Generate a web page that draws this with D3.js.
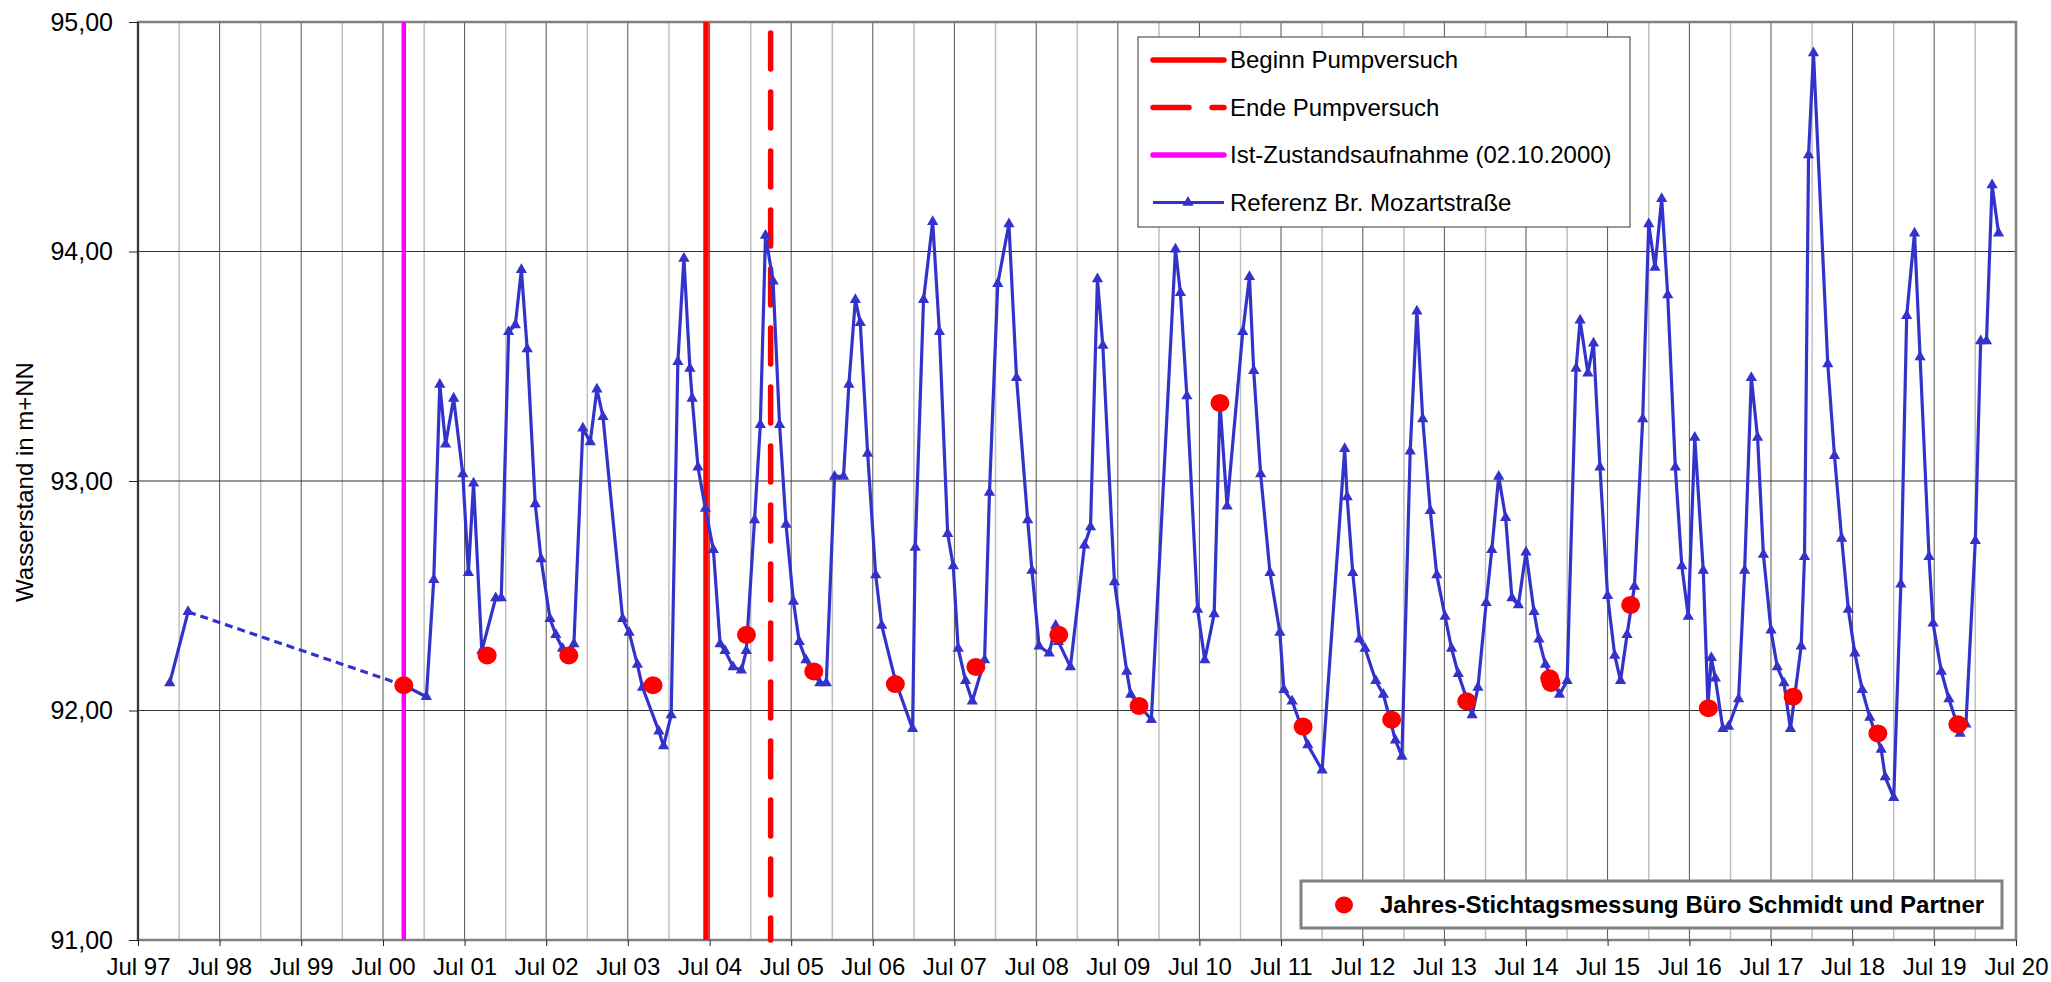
<!DOCTYPE html>
<html>
<head>
<meta charset="utf-8">
<script src="https://cdn.jsdelivr.net/npm/d3@7"></script>
<style>
  body { margin: 0; background: #fff; }
  svg { display: block; font-family: "Liberation Sans", Arial, sans-serif; }
</style>
</head>
<body>
<svg id="chart" width="2051" height="982"></svg>
<script>
// Referenz Br. Mozartstrasse
var refDates = ['1997-11-20', '1998-02-10', '2000-10-02', '2001-01-11', '2001-02-13', '2001-03-12', '2001-04-07', '2001-05-13', '2001-06-23', '2001-07-18',
    '2001-08-10', '2001-09-16', '2001-11-17', '2001-12-12', '2002-01-14', '2002-02-13', '2002-03-12', '2002-04-07', '2002-05-13', '2002-06-08',
    '2002-07-18', '2002-08-13', '2002-09-12', '2002-10-10', '2002-11-02', '2002-12-12', '2003-01-14', '2003-02-13', '2003-03-12', '2003-06-08',
    '2003-07-07', '2003-08-13', '2003-09-05', '2003-11-17', '2003-12-08', '2004-01-11', '2004-02-10', '2004-03-08', '2004-04-04', '2004-04-14',
    '2004-05-10', '2004-06-12', '2004-07-18', '2004-08-17', '2004-09-08', '2004-10-14', '2004-11-20', '2004-12-12', '2005-01-18', '2005-02-13',
    '2005-03-08', '2005-04-11', '2005-05-10', '2005-06-08', '2005-07-11', '2005-08-06', '2005-09-05', '2005-11-06', '2005-12-05', '2006-01-11',
    '2006-02-20', '2006-03-16', '2006-04-14', '2006-05-06', '2006-06-08', '2006-07-14', '2006-08-10', '2006-10-10', '2006-12-26', '2007-01-07',
    '2007-02-13', '2007-03-26', '2007-04-25', '2007-06-01', '2007-06-26', '2007-07-18', '2007-08-20', '2007-09-19', '2007-11-13', '2007-12-05',
    '2008-01-11', '2008-03-01', '2008-04-04', '2008-05-24', '2008-06-12', '2008-07-14', '2008-08-28', '2008-09-26', '2008-10-08', '2008-12-01',
    '2009-02-02', '2009-03-01', '2009-04-01', '2009-04-25', '2009-06-16', '2009-08-10', '2009-08-28', '2009-11-28', '2010-03-16', '2010-04-07',
    '2010-05-06', '2010-06-23', '2010-07-25', '2010-09-05', '2010-10-01', '2010-11-02', '2011-01-11', '2011-02-10', '2011-03-01', '2011-04-01',
    '2011-05-13', '2011-06-26', '2011-07-14', '2011-08-20', '2011-10-29', '2012-01-01', '2012-04-11', '2012-04-22', '2012-05-17', '2012-06-16',
    '2012-07-11', '2012-08-28', '2012-10-01', '2012-11-24', '2012-12-23', '2013-01-29', '2013-02-28', '2013-03-26', '2013-04-29', '2013-05-28',
    '2013-07-04', '2013-08-02', '2013-09-01', '2013-11-02', '2013-11-28', '2014-01-04', '2014-01-29', '2014-03-01', '2014-04-01', '2014-04-29',
    '2014-05-28', '2014-07-01', '2014-08-06', '2014-08-28', '2014-09-26', '2014-11-28', '2015-01-01', '2015-02-10', '2015-02-28', '2015-04-04',
    '2015-04-29', '2015-05-28', '2015-07-01', '2015-08-02', '2015-08-28', '2015-09-26', '2015-10-29', '2015-12-05', '2016-01-01', '2016-01-29',
    '2016-02-28', '2016-03-26', '2016-04-29', '2016-05-28', '2016-06-26', '2016-07-25', '2016-09-01', '2016-09-22', '2016-10-07', '2016-10-25',
    '2016-11-28', '2016-12-23', '2017-02-06', '2017-03-05', '2017-04-04', '2017-05-02', '2017-05-28', '2017-07-01', '2017-07-29', '2017-08-28',
    '2017-09-26', '2017-11-13', '2017-11-28', '2017-12-16', '2018-01-07', '2018-03-12', '2018-04-11', '2018-05-13', '2018-06-12', '2018-07-11',
    '2018-08-13', '2018-09-16', '2018-11-06', '2018-11-24', '2019-01-01', '2019-02-02', '2019-02-28', '2019-04-04', '2019-04-29', '2019-06-08',
    '2019-06-26', '2019-08-02', '2019-09-05', '2019-10-25', '2019-11-20', '2020-01-01', '2020-01-25', '2020-02-20', '2020-03-16', '2020-04-14'];
var refValues = [92.12, 92.43, 92.11, 92.06, 92.57, 93.42, 93.16, 93.36, 93.03, 92.60,
    92.99, 92.26, 92.49, 92.49, 93.65, 93.68, 93.92, 93.575, 92.90, 92.66,
    92.40, 92.33, 92.27, 92.23, 92.29, 93.23, 93.17, 93.40, 93.28, 92.40,
    92.34, 92.20, 92.10, 91.91, 91.845, 91.98, 93.52, 93.97, 93.49, 93.36,
    93.06, 92.88, 92.70, 92.29, 92.26, 92.19, 92.175, 92.26, 92.83, 93.245,
    94.07, 93.87, 93.245, 92.81, 92.475, 92.30, 92.22, 92.12, 92.12, 93.02,
    93.02, 93.42, 93.79, 93.69, 93.12, 92.59, 92.37, 92.13, 91.92, 92.71,
    93.79, 94.13, 93.65, 92.77, 92.63, 92.27, 92.13, 92.04, 92.22, 92.95,
    93.86, 94.12, 93.45, 92.83, 92.61, 92.28, 92.25, 92.37, 92.30, 92.19,
    92.72, 92.80, 93.88, 93.59, 92.56, 92.17, 92.07, 91.96, 94.01, 93.82,
    93.37, 92.44, 92.22, 92.42, 93.34, 92.89, 93.65, 93.89, 93.48, 93.03,
    92.60, 92.34, 92.09, 92.04, 91.85, 91.74, 93.14, 92.93, 92.60, 92.31,
    92.27, 92.13, 92.07, 91.87, 91.80, 93.13, 93.74, 93.27, 92.87, 92.59,
    92.41, 92.27, 92.16, 91.98, 92.10, 92.47, 92.70, 93.02, 92.84, 92.49,
    92.46, 92.69, 92.43, 92.31, 92.20, 92.07, 92.13, 93.49, 93.70, 93.47,
    93.60, 93.06, 92.50, 92.24, 92.13, 92.33, 92.54, 93.27, 94.12, 93.93,
    94.23, 93.81, 93.06, 92.63, 92.41, 93.19, 92.61, 92.02, 92.23, 92.14,
    91.92, 91.93, 92.05, 92.61, 93.45, 93.19, 92.68, 92.35, 92.19, 92.12,
    91.92, 92.28, 92.67, 94.42, 94.865, 93.51, 93.11, 92.75, 92.44, 92.25,
    92.09, 91.97, 91.83, 91.71, 91.62, 92.55, 93.72, 94.08, 93.54, 92.67,
    92.38, 92.17, 92.05, 91.90, 91.94, 92.74, 93.61, 93.61, 94.29, 94.08];
// index of the point where the dashed (gap) segment ends
var gapEnd = 2;

// Jahres-Stichtagsmessung
var messDates = ['2000-10-02', '2001-10-10', '2002-10-10', '2003-10-22', '2004-12-13', '2005-10-10', '2006-10-10',
    '2007-10-05', '2008-10-10', '2009-10-04', '2010-10-01', '2011-10-08', '2012-11-07', '2013-10-09',
    '2014-10-15', '2014-10-21', '2015-10-12', '2016-09-24', '2017-10-08', '2018-10-22', '2019-10-15'];
var messValues = [92.11, 92.24, 92.24, 92.11, 92.33, 92.17, 92.115,
    92.19, 92.33, 92.02, 93.34, 91.93, 91.96, 92.04,
    92.14, 92.12, 92.46, 92.01, 92.06, 91.90, 91.94];

var eventNames = ['Beginn Pumpversuch', 'Ende Pumpversuch', 'Ist-Zustandsaufnahme (02.10.2000)'];
var eventDates = ['2004-06-15', '2005-03-31', '2000-10-02'];

var yTicks = [91, 92, 93, 94, 95];

var parse = d3.timeParse('%Y-%m-%d');
var fmtNum = function(v) { return d3.format('.2f')(v).replace('.', ','); };

var svg = d3.select('#chart');
var plotLeft = 138, plotRight = 2016, plotTop = 22, plotBottom = 940;

var x = d3.scaleTime()
    .domain([new Date(1997, 6, 1), new Date(2020, 6, 1)])
    .range([plotLeft, plotRight]);
var y = d3.scaleLinear()
    .domain([91, 95])
    .range([plotBottom, plotTop]);

var months = d3.timeMonth.every(1).range(new Date(1997, 6, 1), new Date(2020, 6, 2));
var julTicks = months.filter(function(d) { return d.getMonth() === 6; });
var janTicks = months.filter(function(d) { return d.getMonth() === 0; });

// grid
var grid = svg.append('g');
grid.selectAll('line.jan')
    .data(janTicks)
    .enter().append('line')
    .attr('x1', function(d) { return x(d); })
    .attr('x2', function(d) { return x(d); })
    .attr('y1', plotTop).attr('y2', plotBottom)
    .attr('stroke', '#c0c0c0').attr('stroke-width', 1.5);
grid.selectAll('line.jul')
    .data(julTicks)
    .enter().append('line')
    .attr('x1', function(d) { return x(d); })
    .attr('x2', function(d) { return x(d); })
    .attr('y1', plotTop).attr('y2', plotBottom)
    .attr('stroke', '#555').attr('stroke-width', 1);
grid.selectAll('line.h')
    .data(yTicks)
    .enter().append('line')
    .attr('x1', plotLeft).attr('x2', plotRight)
    .attr('y1', function(d) { return y(d); })
    .attr('y2', function(d) { return y(d); })
    .attr('stroke', '#333').attr('stroke-width', 1.2);

// frame
svg.append('rect')
    .attr('x', plotLeft).attr('y', plotTop)
    .attr('width', plotRight - plotLeft).attr('height', plotBottom - plotTop)
    .attr('fill', 'none').attr('stroke', '#808080').attr('stroke-width', 2.5);
svg.append('line')
    .attr('x1', plotLeft).attr('x2', plotLeft).attr('y1', plotTop).attr('y2', plotBottom)
    .attr('stroke', '#222').attr('stroke-width', 1.5);

// axes
var yAxis = svg.append('g')
    .attr('transform', 'translate(' + plotLeft + ',0)')
    .call(d3.axisLeft(y).tickValues(yTicks).tickSize(9).tickPadding(16).tickFormat(fmtNum));
yAxis.select('.domain').remove();
yAxis.selectAll('.tick line').attr('stroke', '#222');
yAxis.selectAll('text').attr('font-size', 25).attr('fill', '#000')
    .attr('font-family', '"Liberation Sans", Arial, sans-serif');

var xAxis = svg.append('g')
    .attr('transform', 'translate(0,' + plotBottom + ')')
    .call(d3.axisBottom(x).tickValues(julTicks).tickSize(6).tickPadding(12)
        .tickFormat(d3.timeFormat('Jul %y')));
xAxis.select('.domain').remove();
xAxis.selectAll('.tick line').attr('stroke', '#222');
xAxis.selectAll('text').attr('font-size', 24).attr('fill', '#000')
    .attr('font-family', '"Liberation Sans", Arial, sans-serif');

svg.append('text')
    .attr('transform', 'translate(33,482) rotate(-90)')
    .attr('text-anchor', 'middle')
    .attr('font-size', 24)
    .text('Wasserstand in m+NN');

// event lines
var eventStyles = [
    {color: '#ff0000', width: 5.5, dash: null, y1: plotTop},
    {color: '#ff0000', width: 5.5, dash: '36,23', y1: 33},
    {color: '#ff00ff', width: 4.5, dash: null, y1: plotTop}
];
svg.append('g').selectAll('line')
    .data(eventDates)
    .enter().append('line')
    .attr('x1', function(d) { return x(parse(d)); })
    .attr('x2', function(d) { return x(parse(d)); })
    .attr('y1', function(d, i) { return eventStyles[i].y1; })
    .attr('y2', plotBottom)
    .attr('stroke', function(d, i) { return eventStyles[i].color; })
    .attr('stroke-width', function(d, i) { return eventStyles[i].width; })
    .attr('stroke-dasharray', function(d, i) { return eventStyles[i].dash; })
    .attr('stroke-linecap', function(d, i) { return eventStyles[i].dash ? 'round' : 'butt'; });

// reference series
var refData = refDates.map(function(d, i) { return {date: parse(d), value: refValues[i]}; });
var line = d3.line()
    .x(function(d) { return x(d.date); })
    .y(function(d) { return y(d.value); });
var blue = '#3333cc';

svg.append('path')
    .datum(refData.slice(0, gapEnd))
    .attr('d', line)
    .attr('fill', 'none').attr('stroke', blue).attr('stroke-width', 3.2);
svg.append('path')
    .datum(refData.slice(gapEnd - 1, gapEnd + 1))
    .attr('d', line)
    .attr('fill', 'none').attr('stroke', blue).attr('stroke-width', 3.2)
    .attr('stroke-dasharray', '8,5');
svg.append('path')
    .datum(refData.slice(gapEnd))
    .attr('d', line)
    .attr('fill', 'none').attr('stroke', blue).attr('stroke-width', 3.2)
    .attr('stroke-linejoin', 'round');

var tri = d3.symbol().type(d3.symbolTriangle).size(55);
svg.append('g').selectAll('path')
    .data(refData)
    .enter().append('path')
    .attr('d', tri)
    .attr('transform', function(d) { return 'translate(' + x(d.date) + ',' + y(d.value) + ')'; })
    .attr('fill', blue);

// measurements
svg.append('g').selectAll('ellipse')
    .data(messDates)
    .enter().append('ellipse')
    .attr('cx', function(d) { return x(parse(d)); })
    .attr('cy', function(d, i) { return y(messValues[i]); })
    .attr('rx', 9.5).attr('ry', 9)
    .attr('fill', '#ff0000');

// legend top
var legend = svg.append('g');
legend.append('rect')
    .attr('x', 1138).attr('y', 37)
    .attr('width', 492).attr('height', 190)
    .attr('fill', '#fff').attr('stroke', '#555').attr('stroke-width', 1.2);
var legItems = eventNames.concat(['Referenz Br. Mozartstraße']);
var legRows = legend.selectAll('g.row')
    .data(legItems)
    .enter().append('g')
    .attr('transform', function(d, i) { return 'translate(0,' + (60 + i * 47.5) + ')'; });
legRows.append('line')
    .attr('x1', 1153).attr('x2', 1224)
    .attr('stroke', function(d, i) { return i < 3 ? eventStyles[i].color : blue; })
    .attr('stroke-width', function(d, i) { return i < 3 ? 5.5 : 3.2; })
    .attr('stroke-dasharray', function(d, i) { return i < 3 ? eventStyles[i].dash : null; })
    .attr('stroke-linecap', function(d, i) { return i < 3 ? 'round' : 'butt'; });
legRows.filter(function(d, i) { return i === 3; })
    .append('path')
    .attr('d', tri)
    .attr('transform', 'translate(1188,0)')
    .attr('fill', blue);
legRows.append('text')
    .attr('x', 1230).attr('dy', '0.35em')
    .attr('font-size', 24)
    .text(function(d) { return d; });

// legend bottom
var leg2 = svg.append('g');
leg2.append('rect')
    .attr('x', 1301).attr('y', 881)
    .attr('width', 701).attr('height', 47)
    .attr('fill', '#fff').attr('stroke', '#808080').attr('stroke-width', 3);
leg2.append('ellipse')
    .attr('cx', 1344).attr('cy', 905)
    .attr('rx', 9).attr('ry', 8.5)
    .attr('fill', '#ff0000');
leg2.append('text')
    .attr('x', 1380).attr('y', 905).attr('dy', '0.35em')
    .attr('font-size', 24).attr('font-weight', 'bold')
    .text('Jahres-Stichtagsmessung Büro Schmidt und Partner');
</script>
</body>
</html>
